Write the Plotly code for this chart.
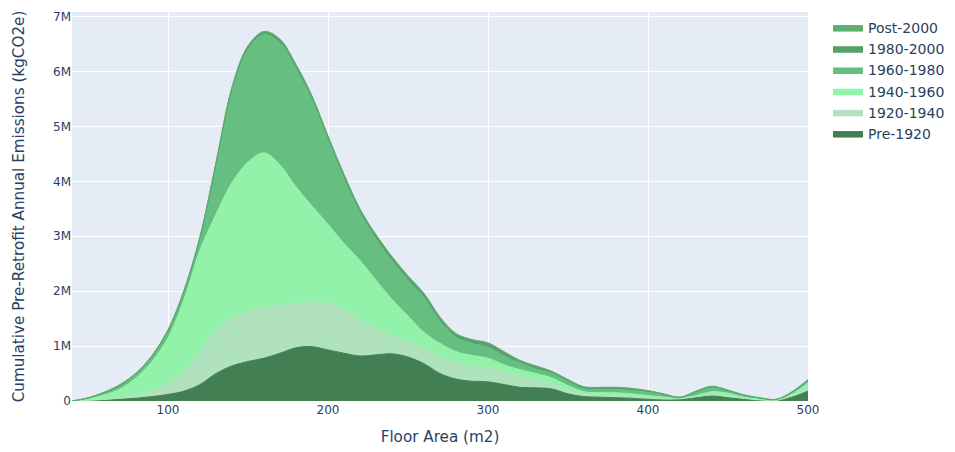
import plotly.graph_objects as go

# Floor area bins (m2)
floor_area = [40, 50, 60, 70, 80, 90, 100, 110, 120, 130, 140, 150, 160, 170, 180, 190,
              200, 210, 220, 230, 240, 250, 260, 270, 280, 290, 300, 310, 320, 330, 340,
              350, 360, 370, 380, 390, 400, 410, 420, 430, 440, 450, 460, 470, 480, 490, 500]

# Annual emissions per construction era, in millions of kgCO2e
pre_1920 = [0, 0.005, 0.01, 0.03, 0.05, 0.08, 0.12, 0.18, 0.30, 0.50, 0.64, 0.72, 0.78, 0.87, 0.97, 0.99,
            0.93, 0.87, 0.82, 0.84, 0.86, 0.80, 0.68, 0.50, 0.40, 0.36, 0.35, 0.30, 0.25, 0.24, 0.22,
            0.13, 0.08, 0.07, 0.06, 0.05, 0.03, 0.02, 0.03, 0.06, 0.09, 0.06, 0.03, 0.01, 0.01, 0.07, 0.18]
era_1920_1940 = [0, 0.005, 0.02, 0.03, 0.06, 0.11, 0.20, 0.37, 0.60, 0.78, 0.86, 0.90, 0.92, 0.87, 0.81, 0.81,
                 0.85, 0.79, 0.66, 0.48, 0.32, 0.28, 0.27, 0.30, 0.30, 0.28, 0.25, 0.22, 0.20, 0.14, 0.08,
                 0.07, 0.05, 0.04, 0.04, 0.04, 0.03, 0.02, 0.01, 0.02, 0.03, 0.03, 0.02, 0.01, 0.0, 0.03, 0.08]
era_1940_1960 = [0, 0.03, 0.08, 0.16, 0.31, 0.53, 0.83, 1.30, 1.85, 2.12, 2.48, 2.73, 2.82, 2.56, 2.12, 1.75,
                 1.44, 1.21, 1.08, 0.88, 0.67, 0.47, 0.30, 0.25, 0.20, 0.19, 0.18, 0.14, 0.12, 0.12, 0.12,
                 0.08, 0.04, 0.04, 0.05, 0.04, 0.04, 0.03, 0.01, 0.02, 0.05, 0.05, 0.02, 0.02, 0.01, 0.03, 0.07]
era_1960_1980 = [0, 0.01, 0.03, 0.05, 0.06, 0.08, 0.10, 0.12, 0.20, 0.88, 1.67, 2.05, 2.15, 2.22, 2.15, 1.93,
                 1.53, 1.18, 0.86, 0.75, 0.70, 0.65, 0.63, 0.40, 0.26, 0.22, 0.20, 0.16, 0.12, 0.08, 0.08,
                 0.07, 0.05, 0.06, 0.06, 0.06, 0.06, 0.04, 0.01, 0.06, 0.07, 0.04, 0.03, 0.01, 0.005, 0.02, 0.04]
era_1980_2000 = [0, 0.005, 0.01, 0.015, 0.02, 0.02, 0.03, 0.03, 0.03, 0.04, 0.04, 0.04, 0.04, 0.04, 0.05, 0.05,
                 0.05, 0.05, 0.05, 0.05, 0.05, 0.05, 0.05, 0.05, 0.05, 0.06, 0.06, 0.06, 0.03, 0.04, 0.03,
                 0.03, 0.03, 0.03, 0.03, 0.03, 0.02, 0.01, 0.01, 0.01, 0.02, 0.01, 0.01, 0.005, 0.005, 0.01, 0.015]
post_2000 = [0, 0.005, 0.01, 0.015, 0.01, 0.01, 0.02, 0.02, 0.02, 0.03, 0.03, 0.03, 0.02, 0.03, 0.03, 0.03,
             0.03, 0.03, 0.03, 0.03, 0.03, 0.03, 0.03, 0.03, 0.02, 0.01, 0.02, 0.02, 0.02, 0.02, 0.01,
             0.01, 0.01, 0.01, 0.01, 0.01, 0.01, 0.01, 0.0, 0.01, 0.01, 0.01, 0.0, 0.005, 0.0, 0.01, 0.005]

era_names = ["Pre-1920", "1920-1940", "1940-1960", "1960-1980", "1980-2000", "Post-2000"]
era_values = [pre_1920, era_1920_1940, era_1940_1960, era_1960_1980, era_1980_2000, post_2000]
era_colors = ["#427F52", "#B0E2BE", "#92F2AA", "#66BE80", "#56A06A", "#5DAF70"]

MILLION = 1e6

fig = go.Figure()
for name, vals, color in zip(era_names, era_values, era_colors):
    fig.add_trace(go.Scatter(
        x=floor_area,
        y=[v * MILLION for v in vals],
        name=name,
        mode="lines",
        stackgroup="emissions",
        line=dict(color=color, width=1, shape="spline"),
        fillcolor=color,
    ))

fig.update_layout(
    width=955,
    height=452,
    margin=dict(l=72, r=147, t=12, b=51),
    font=dict(family="Verdana, DejaVu Sans, sans-serif", size=12, color="#2a3f5f"),
    plot_bgcolor="#E5ECF6",
    paper_bgcolor="white",
    legend=dict(font=dict(size=14), xref="container", yref="container",
                x=0.867, y=0.9735, xanchor="left", yanchor="top"),
    xaxis=dict(
        title=dict(text="Floor Area (m2)", font=dict(size=15.2)),
        range=[40, 500],
        dtick=100,
        gridcolor="white",
        zeroline=False,
        automargin=False,
    ),
    yaxis=dict(
        title=dict(text="Cumulative Pre-Retrofit Annual Emissions (kgCO2e)",
                   font=dict(size=15.2), standoff=24),
        gridcolor="white",
        zeroline=False,
        automargin=False,
    ),
)

fig.write_html("out.html")
